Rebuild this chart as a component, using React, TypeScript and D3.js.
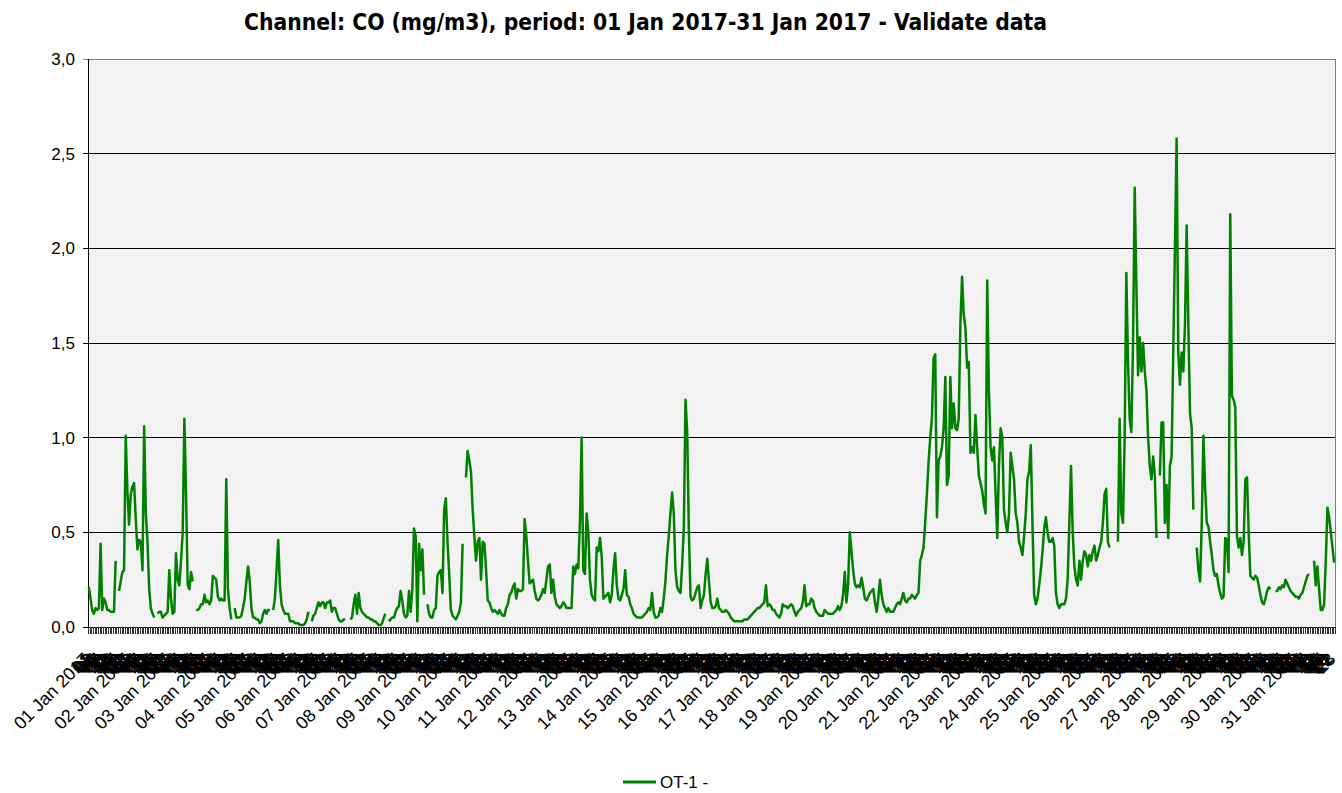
import React from "react";
import * as d3 from "d3";

// ---- Data: hourly CO (mg/m3), January 2017, 24 values per day (null = no data)
const jan01 = [0.21,0.15,0.09,0.07,0.10,0.09,0.10,0.44,0.09,0.15,0.13,0.09,0.09,0.08,0.08,0.08,0.35,null,0.19,0.24,0.29,0.30,1.01,0.72];
const jan02 = [0.54,0.70,0.74,0.76,0.57,0.41,0.46,0.45,0.30,1.06,0.60,0.45,0.20,0.10,0.07,0.05,null,0.07,0.08,0.08,0.05,0.06,0.07,0.08];
const jan03 = [0.30,0.15,0.07,0.08,0.39,0.25,0.22,0.35,0.50,1.10,0.70,0.22,0.20,0.29,0.24,null,0.09,0.09,0.10,0.12,0.12,0.17,0.13,0.14];
const jan04 = [0.12,0.14,0.27,0.26,0.25,0.16,0.14,0.15,0.14,0.14,0.78,0.20,0.10,0.04,null,0.10,0.05,0.05,0.05,0.06,0.10,0.15,0.24,0.32];
const jan05 = [0.24,0.10,0.05,0.05,0.04,0.04,0.02,0.03,0.07,0.09,0.07,0.09,0.09,null,0.09,0.15,0.30,0.46,0.22,0.12,0.09,0.07,0.07,0.07];
const jan06 = [0.03,0.03,0.03,0.02,0.02,0.02,0.01,0.01,0.01,0.02,0.04,0.08,null,0.03,0.06,0.07,0.10,0.13,0.11,0.13,0.13,0.10,0.13,0.13];
const jan07 = [0.14,0.08,0.10,0.10,0.07,0.04,0.03,0.03,0.04,0.04,null,null,0.04,0.05,0.12,0.17,0.07,0.18,0.10,0.08,0.07,0.06,0.05,0.05];
const jan08 = [0.04,0.04,0.03,0.03,0.02,0.01,0.01,0.02,0.05,0.07,null,0.03,0.04,0.05,0.05,0.08,0.10,0.11,0.19,0.14,0.07,0.05,0.06,0.19];
const jan09 = [0.08,0.20,0.52,0.48,0.03,0.44,0.30,0.41,0.17,null,0.12,0.07,0.05,0.05,0.09,0.10,0.27,0.29,0.30,0.18,0.62,0.68,0.45,0.28];
const jan10 = [0.09,0.06,0.05,0.04,0.06,0.08,0.13,0.44,null,0.79,0.93,0.88,0.82,0.62,0.48,0.35,0.45,0.47,0.25,0.45,0.44,0.30,0.14,0.13];
const jan11 = [0.10,0.08,0.09,0.08,0.07,0.09,0.07,0.06,0.06,0.10,0.12,0.17,0.18,0.21,0.23,0.15,0.20,0.19,0.19,0.20,0.57,0.48,0.35,0.23];
const jan12 = [0.24,0.25,0.19,0.15,0.14,0.15,0.17,0.20,0.18,0.25,0.32,0.33,0.18,0.25,0.16,0.12,0.11,0.10,0.11,0.13,0.12,0.10,0.10,0.10];
const jan13 = [0.10,0.32,0.28,0.33,0.31,0.55,1.00,0.30,0.28,0.60,0.50,0.25,0.17,0.15,0.14,0.42,0.40,0.47,0.37,0.15,0.16,0.17,0.18,0.13];
const jan14 = [0.17,0.30,0.39,0.22,0.15,0.14,0.17,0.20,0.30,0.17,0.16,0.12,0.10,0.07,0.06,0.05,0.05,0.05,0.05,0.06,0.07,0.08,0.10,0.09];
const jan15 = [0.18,0.08,0.05,0.05,0.06,0.10,0.08,0.15,0.24,0.38,0.48,0.60,0.71,0.60,0.30,0.21,0.19,0.18,0.33,0.53,1.20,1.03,0.50,0.16];
const jan16 = [0.14,0.15,0.18,0.21,0.22,0.10,0.14,0.17,0.28,0.36,0.24,0.13,0.10,0.10,0.11,0.15,0.10,0.09,0.08,0.08,0.09,0.08,0.07,0.05];
const jan17 = [0.04,0.03,0.03,0.03,0.03,0.03,0.03,0.04,0.04,0.04,0.05,0.06,0.07,0.08,0.09,0.10,0.10,0.11,0.12,0.13,0.22,0.11,0.12,0.11];
const jan18 = [0.09,0.09,0.07,0.06,0.05,0.07,0.12,0.11,0.11,0.10,0.11,0.12,0.11,0.08,0.06,0.08,0.09,0.10,0.13,0.22,0.11,0.12,0.12,0.15];
const jan19 = [0.14,0.10,0.08,0.07,0.06,0.06,0.06,0.09,0.08,0.07,0.07,0.07,0.07,0.08,0.09,0.11,0.09,0.11,0.17,0.29,0.13,0.22,0.50,0.40];
const jan20 = [0.30,0.23,0.21,0.22,0.21,0.26,0.21,0.15,0.14,0.16,0.18,0.19,0.20,0.13,0.08,0.15,0.25,0.17,0.12,0.10,0.08,0.10,0.08,0.08];
const jan21 = [0.08,0.10,0.12,0.13,0.12,0.15,0.18,0.14,0.13,0.15,0.15,0.17,0.16,0.15,0.17,0.18,0.35,0.38,0.42,0.55,0.70,0.87,1.00,1.10];
const jan22 = [1.42,1.44,0.58,0.88,0.90,0.95,1.05,1.32,0.75,0.80,1.32,1.05,1.18,1.05,1.04,1.10,1.60,1.85,1.65,1.58,1.37,1.40,0.92,0.95];
const jan23 = [0.92,1.12,0.95,0.80,0.76,0.72,0.65,0.60,1.83,1.25,0.95,0.88,0.95,0.70,0.47,0.85,1.05,1.00,0.62,0.55,0.50,0.60,0.92,0.85];
const jan24 = [0.78,0.60,0.55,0.45,0.42,0.38,0.48,0.60,0.78,0.82,0.96,0.55,0.17,0.12,0.15,0.22,0.30,0.40,0.52,0.58,0.50,0.45,0.45,0.47];
const jan25 = [0.43,0.18,0.12,0.10,0.12,0.12,0.12,0.15,0.25,0.55,0.85,0.50,0.32,0.25,0.22,0.35,0.25,0.35,0.40,0.38,0.32,0.38,0.35,0.40];
const jan26 = [0.43,0.35,0.38,0.42,0.45,0.55,0.70,0.73,0.45,0.42,null,null,null,null,0.45,1.10,0.60,0.55,1.00,1.87,1.40,1.10,1.03,1.50];
const jan27 = [2.32,1.80,1.33,1.53,1.35,1.50,1.35,1.25,1.00,0.85,0.78,0.90,0.80,0.47,null,0.80,1.08,1.08,0.55,0.75,0.47,0.85,0.90,1.45];
const jan28 = [2.00,2.58,1.45,1.28,1.45,1.35,1.60,2.12,1.60,1.13,1.05,0.62,null,0.42,0.30,0.24,0.55,1.01,0.74,0.55,0.53,0.45,0.38,0.30];
const jan29 = [0.27,0.28,0.22,0.18,0.15,0.16,0.47,0.46,0.29,2.18,1.22,1.20,1.16,0.48,0.42,0.47,0.38,0.45,0.78,0.79,0.50,0.27,0.26,0.25];
const jan30 = [0.27,0.26,0.22,0.17,0.13,0.12,0.15,0.19,0.21,0.20,null,null,0.19,0.19,0.21,0.20,0.22,0.21,0.25,0.23,0.21,0.19,0.18,0.17];
const jan31 = [0.16,0.16,0.15,0.17,0.18,0.21,0.24,0.27,0.28,null,null,0.35,0.22,0.32,0.20,0.09,0.09,0.12,0.35,0.63,0.58,0.50,0.42,0.34];

const days = [jan01,jan02,jan03,jan04,jan05,jan06,jan07,jan08,jan09,jan10,jan11,jan12,jan13,jan14,jan15,jan16,jan17,jan18,jan19,jan20,jan21,jan22,jan23,jan24,jan25,jan26,jan27,jan28,jan29,jan30,jan31];
const yTicks = [0, 0.5, 1.0, 1.5, 2.0, 2.5, 3.0];
const seriesName = "OT-1 -";
const titleText = "Channel: CO (mg/m3), period: 01 Jan 2017-31 Jan 2017 - Validate data";

type Pt = { i: number; v: number | null; label: string };
const points: Pt[] = [];
days.forEach((day, d) => {
  day.forEach((v, h) => {
    const dd = String(d + 1).padStart(2, "0");
    points.push({ i: d * 24 + h, v, label: h === 0 ? `${dd} Jan 2017` : String(h).padStart(2, "0") });
  });
});

const W = 1342, H = 793;
const L = 88, R = 1335, T = 59, B = 627;
const GREEN = "#008000";
const FONT = "Arial, 'Liberation Sans', sans-serif";

export default function App() {
  const N = points.length;
  const x = d3.scaleLinear().domain([0, N]).range([L, R]);
  const y = d3.scaleLinear().domain([0, 3]).range([B, T]);
  const line = d3
    .line<Pt>()
    .defined((p) => p.v !== null)
    .x((p) => x(p.i + 0.5))
    .y((p) => y(p.v as number));
  const fmt = (v: number) => v.toFixed(1).replace(".", ",");

  return (
    <svg width={W} height={H} style={{ position: "absolute", left: 0, top: 0, background: "#fff" }}>
      <text x={645.5} y={30} textAnchor="middle" fontFamily="Tahoma, 'DejaVu Sans Condensed', 'DejaVu Sans', sans-serif"
        fontWeight="bold" fontSize={23} textLength={803} lengthAdjust="spacingAndGlyphs">{titleText}</text>

      <rect x={L} y={T} width={R - L} height={B - T} fill="#f2f2f2" />
      {yTicks.map((t) => (
        <g key={t}>
          <line x1={L - 5} x2={R} y1={y(t)} y2={y(t)} stroke={t === 3 ? "#808080" : "#000"} strokeWidth={1} shapeRendering="crispEdges" />
          <text x={L - 13} y={y(t)} dy="0.35em" textAnchor="end" fontFamily={FONT} fontSize={17}>{fmt(t)}</text>
        </g>
      ))}
      <line x1={R} x2={R} y1={T} y2={B} stroke="#808080" shapeRendering="crispEdges" />
      <line x1={L} x2={L} y1={T} y2={B} stroke="#000" shapeRendering="crispEdges" />
      <line x1={L - 5} x2={R} y1={B} y2={B} stroke="#000" shapeRendering="crispEdges" />
      {d3.range(N + 1).map((i) => (
        <line key={"t" + i} x1={Math.round(x(i)) + 0.5} x2={Math.round(x(i)) + 0.5} y1={B} y2={B + 7} stroke="#333" strokeWidth={1} />
      ))}
      {points.map((p) => (
        <text key={"l" + p.i} transform={`translate(${x(p.i + 0.5) - 2},${B + 29}) rotate(-45)`} textAnchor="end"
          fontFamily={FONT} fontSize={18} dy="0.35em">{p.label}</text>
      ))}
      <path d={line(points) || ""} fill="none" stroke={GREEN} strokeWidth={2.5} strokeLinejoin="round" />

      <line x1={623} x2={656} y1={782} y2={782} stroke={GREEN} strokeWidth={3} />
      <text x={660} y={782} dy="0.35em" fontFamily={FONT} fontSize={17}>{seriesName}</text>
    </svg>
  );
}
